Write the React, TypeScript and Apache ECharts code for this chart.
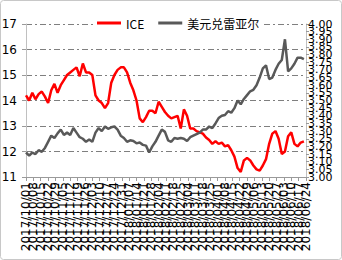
import React, { useEffect, useRef } from "react";
import * as echarts from "echarts";

// Sample points: every 3 days starting at 2017/10/01 (day offset 0)
const STEP_DAYS = 3;
const AXIS_MAX_DAY = 266; // 2018/06/24

const seriesNames = ["ICE", "美元兑雷亚尔"];

// Weekly tick labels on the x axis
const weekLabels = [
  "2017/10/01", "2017/10/08", "2017/10/15", "2017/10/22", "2017/10/29",
  "2017/11/05", "2017/11/12", "2017/11/19", "2017/11/26",
  "2017/12/03", "2017/12/10", "2017/12/17", "2017/12/24", "2017/12/31",
  "2018/01/07", "2018/01/14", "2018/01/21", "2018/01/28",
  "2018/02/04", "2018/02/11", "2018/02/18", "2018/02/25",
  "2018/03/04", "2018/03/11", "2018/03/18", "2018/03/25",
  "2018/04/01", "2018/04/08", "2018/04/15", "2018/04/22", "2018/04/29",
  "2018/05/06", "2018/05/13", "2018/05/20", "2018/05/27",
  "2018/06/03", "2018/06/10", "2018/06/17", "2018/06/24",
];

// Right axis tick labels (bottom to top)
const rightTickLabels = [
  "3.00", "3.05", "3.10", "3.15", "3.20", "3.25", "3.30", "3.35", "3.40", "3.45",
  "3.50", "3.55", "3.60", "3.65", "3.70", "3.75", "3.80", "3.85", "3.90", "3.95", "4.00",
];

const iceValues = [
  14.2, 14.0, 14.3, 14.05, 14.25, 14.35, 14.15, 13.9, 14.4, 14.65,
  14.3, 14.6, 14.8, 15.0, 15.1, 15.2, 15.3, 14.95, 15.45, 15.1,
  15.1, 15.0, 14.2, 14.0, 13.9, 13.7, 13.9, 14.7, 15.0, 15.2,
  15.3, 15.3, 15.1, 14.7, 14.4, 14.0, 13.3, 13.15, 13.35, 13.6,
  13.6, 13.5, 13.95, 13.75, 13.55, 13.4, 13.3, 13.35, 13.4, 12.9,
  13.65, 13.4, 12.9, 12.9, 12.8, 12.75, 12.7, 12.55, 12.45, 12.3,
  12.4, 12.3, 12.35, 12.2, 12.25, 12.05, 11.8, 11.35, 11.2, 11.65,
  11.75, 11.65, 11.45, 11.3, 11.25, 11.45, 11.7, 12.3, 12.7, 12.8,
  12.5, 11.9, 12.0, 12.6, 12.75, 12.3, 12.2, 12.35, 12.4,
];

const brlValues = [
  3.16, 3.14, 3.16, 3.15, 3.175, 3.165, 3.19, 3.23, 3.27, 3.255,
  3.285, 3.31, 3.275, 3.29, 3.275, 3.32, 3.29, 3.26, 3.25, 3.23,
  3.245, 3.23, 3.29, 3.32, 3.3, 3.33, 3.315, 3.325, 3.33, 3.31,
  3.27, 3.255, 3.23, 3.24, 3.235, 3.22, 3.225, 3.21, 3.205, 3.16,
  3.2, 3.23, 3.27, 3.31, 3.295, 3.24, 3.23, 3.255, 3.25, 3.255,
  3.25, 3.235, 3.26, 3.27, 3.28, 3.29, 3.31, 3.31, 3.33, 3.32,
  3.35, 3.385, 3.4, 3.405, 3.43, 3.42, 3.45, 3.5, 3.475, 3.51,
  3.535, 3.56, 3.57, 3.6, 3.65, 3.71, 3.73, 3.64, 3.65, 3.7,
  3.74, 3.765, 3.9, 3.69, 3.71, 3.74, 3.78, 3.78, 3.77,
];

const leftAxis = { min: 11, max: 17, interval: 1 };
const rightAxis = { min: 3.0, max: 4.0, interval: 0.05 };

const FONT = "DejaVu Sans, Noto Sans CJK SC, sans-serif";

export default function App() {
  const ref = useRef<HTMLDivElement>(null);
  useEffect(() => {
    if (!ref.current) return;
    const chart = echarts.init(ref.current, undefined, { renderer: "svg" });
    const icePairs = iceValues.map((v, i) => [i * STEP_DAYS, v]);
    const brlPairs = brlValues.map((v, i) => [i * STEP_DAYS, v]);
    chart.setOption({
      animation: false,
      backgroundColor: "#ffffff",
      textStyle: { fontFamily: FONT },
      grid: { left: 26, right: 36, top: 24, bottom: 83, outerBoundsMode: "none", containLabel: false },
      legend: {
        data: seriesNames,
        left: 93,
        top: 15,
        icon: "rect",
        itemWidth: 24,
        itemHeight: 3,
        itemGap: 14,
        padding: [2, 4],
        backgroundColor: "#ffffff",
        textStyle: { fontSize: 12, color: "#000", fontFamily: "Noto Sans CJK SC, sans-serif" },
      },
      graphic: [
        {
          type: "rect",
          shape: { x: 0.5, y: 0.5, width: 341, height: 259, r: 3 },
          style: { fill: "none", stroke: "#c8c8c8", lineWidth: 1 },
          silent: true,
        },
      ],
      xAxis: [
        {
          type: "value",
          min: 0,
          max: AXIS_MAX_DAY,
          axisLine: { show: false },
          axisTick: { show: false },
          splitLine: { show: false },
          axisLabel: { show: false },
        },
        {
          type: "category",
          data: weekLabels,
          boundaryGap: false,
          position: "bottom",
          axisLine: { show: true, onZero: false, lineStyle: { color: "#9a9a9a", width: 1 } },
          axisTick: { show: true, length: 4, interval: 0, lineStyle: { color: "#9a9a9a" } },
          splitLine: { show: false },
          axisLabel: {
            interval: 0,
            rotate: 90,
            margin: 5,
            fontSize: 12,
            color: "#000",
            fontFamily: FONT,
          },
        },
      ],
      yAxis: [
        {
          type: "value",
          min: leftAxis.min,
          max: leftAxis.max,
          interval: leftAxis.interval,
          axisLine: { show: true, lineStyle: { color: "#c0c0c0" } },
          axisTick: { show: true, length: 4, lineStyle: { color: "#9a9a9a" } },
          splitLine: {
            show: true,
            lineStyle: { color: "#7f7f7f", width: 1, type: [6, 3, 2, 3] },
          },
          axisLabel: { fontSize: 12, color: "#000", margin: 9, fontFamily: FONT, showMinLabel: true, showMaxLabel: true },
        },
        {
          type: "value",
          min: rightAxis.min,
          max: rightAxis.max,
          interval: rightAxis.interval,
          position: "right",
          axisLine: { show: false },
          axisTick: { show: false },
          splitLine: { show: false },
          axisLabel: { show: false },
        },
        {
          type: "category",
          data: rightTickLabels,
          boundaryGap: false,
          position: "right",
          axisLine: { show: true, onZero: false, lineStyle: { color: "#c0c0c0" } },
          axisTick: { show: true, length: 3, interval: 0, lineStyle: { color: "#9a9a9a" } },
          splitLine: { show: false },
          axisLabel: {
            interval: 0,
            fontSize: 11,
            color: "#000",
            margin: 2,
            fontFamily: FONT,
          },
        },
      ],
      series: [
        {
          name: seriesNames[0],
          type: "line",
          xAxisIndex: 0,
          yAxisIndex: 0,
          data: icePairs,
          symbol: "none",
          lineStyle: { color: "#ff0000", width: 2.5 },
          itemStyle: { color: "#ff0000" },
        },
        {
          name: seriesNames[1],
          type: "line",
          xAxisIndex: 0,
          yAxisIndex: 1,
          data: brlPairs,
          symbol: "none",
          lineStyle: { color: "#595959", width: 2.5 },
          itemStyle: { color: "#595959" },
        },
      ],
    });
    return () => chart.dispose();
  }, []);
  return (
    <div
      ref={ref}
      style={{ position: "fixed", left: 0, top: 0, width: 342, height: 260 }}
    />
  );
}
